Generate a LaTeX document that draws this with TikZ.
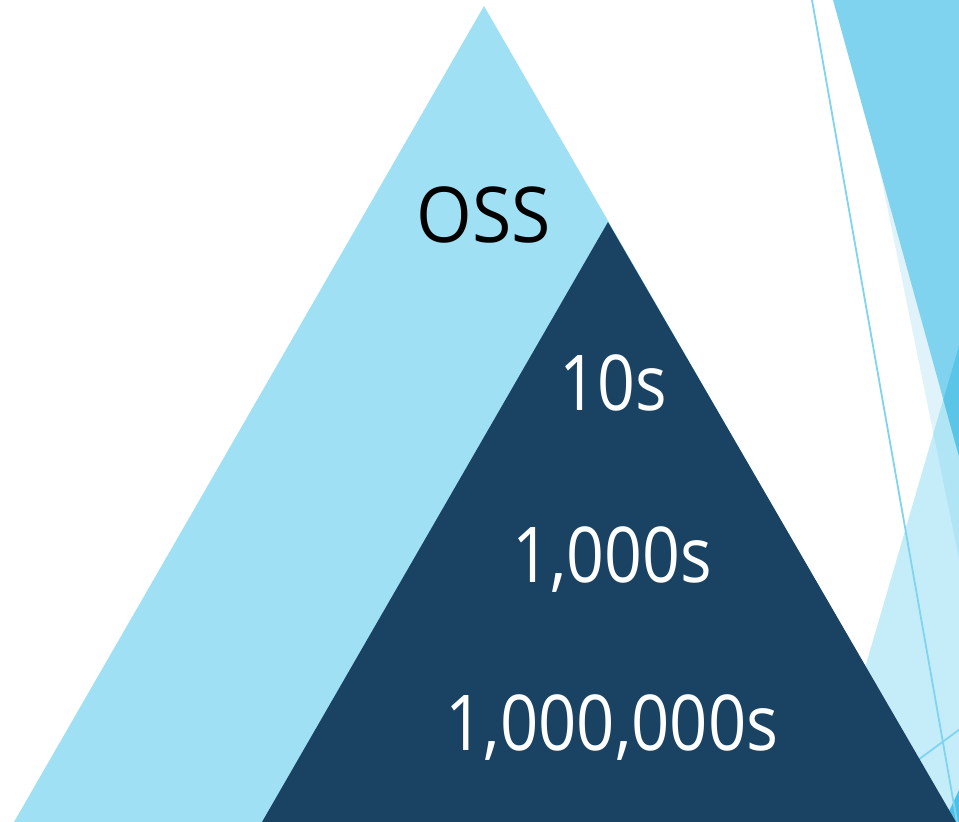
\documentclass[tikz,border=0pt]{standalone}
\usepackage{fontspec}
\setmainfont{Open Sans}
\definecolor{lighttri}{HTML}{A0E0F4}
\definecolor{darktri}{HTML}{1A4262}
\definecolor{facetmed}{HTML}{7FD3EE}
\definecolor{facetpale}{HTML}{E0F3FA}
\definecolor{facetlight}{HTML}{C5EDF9}
\definecolor{facetmix}{HTML}{B0E5F5}
\definecolor{facetdeep}{HTML}{5BC5E8}
\definecolor{facetbright}{HTML}{4DC0EA}
\definecolor{facetline}{HTML}{80D4EF}
\tikzset{
  pyrlabel/.style={anchor=base, inner sep=0pt, font=\fontsize{77}{80}\selectfont},
  facetstroke/.style={draw=facetline, line width=1.8pt}
}
\newcommand{\squeezed}[2][0.86]{\scalebox{#1}[1]{#2}}
\begin{document}
\begin{tikzpicture}[x=1pt,y=-1pt]
\useasboundingbox (0,0) rectangle (959,822);
\clip (0,0) rectangle (959,822);
\fill[white] (0,0) rectangle (959,822);
% facet decoration, right side
\fill[facetpale] (845,0) -- (1100,0) -- (1100,1250) -- cycle;
\fill[facetlight] (1060,0) -- (820,822) -- (1100,822) -- (1100,0) -- cycle;
\begin{scope}
  \clip (845,0) -- (1100,0) -- (1100,1250) -- cycle;
  \fill[facetmix] (1060,0) -- (820,822) -- (1100,822) -- (1100,0) -- cycle;
\end{scope}
\fill[facetmed] (833,0) -- (1100,0) -- (1100,967) -- cycle;
\begin{scope}
  \clip (833,0) -- (1100,0) -- (1100,967) -- cycle;
  \fill[facetdeep] (1060,0) -- (820,822) -- (1100,822) -- (1100,0) -- cycle;
\end{scope}
\fill[facetbright] (944,822) -- (959,790) -- (959,822) -- cycle;
\coordinate (l1a) at (812,0);
\coordinate (l1b) at (957,822);
\coordinate (l2a) at (880,788);
\coordinate (l2b) at (975,718);
\draw[facetstroke] (l1a) -- (l1b);
\draw[facetstroke] (l2a) -- (l2b);
% pyramid
\fill[lighttri] (14,822) -- (484,6) -- (955,822) -- cycle;
\fill[darktri] (262,822) -- (608,222) -- (956,822) -- cycle;
\node[pyrlabel, text=black] (oss) at (484,242) {\squeezed[0.93]{OSS}};
\node[pyrlabel, text=white] (tens) at (613,410) {\squeezed{10s}};
\node[pyrlabel, text=white] (thous) at (612,582) {\squeezed{1,000s}};
\node[pyrlabel, text=white] (mill) at (612,750) {\squeezed[0.87]{1,000,000s}};
\end{tikzpicture}
\end{document}
